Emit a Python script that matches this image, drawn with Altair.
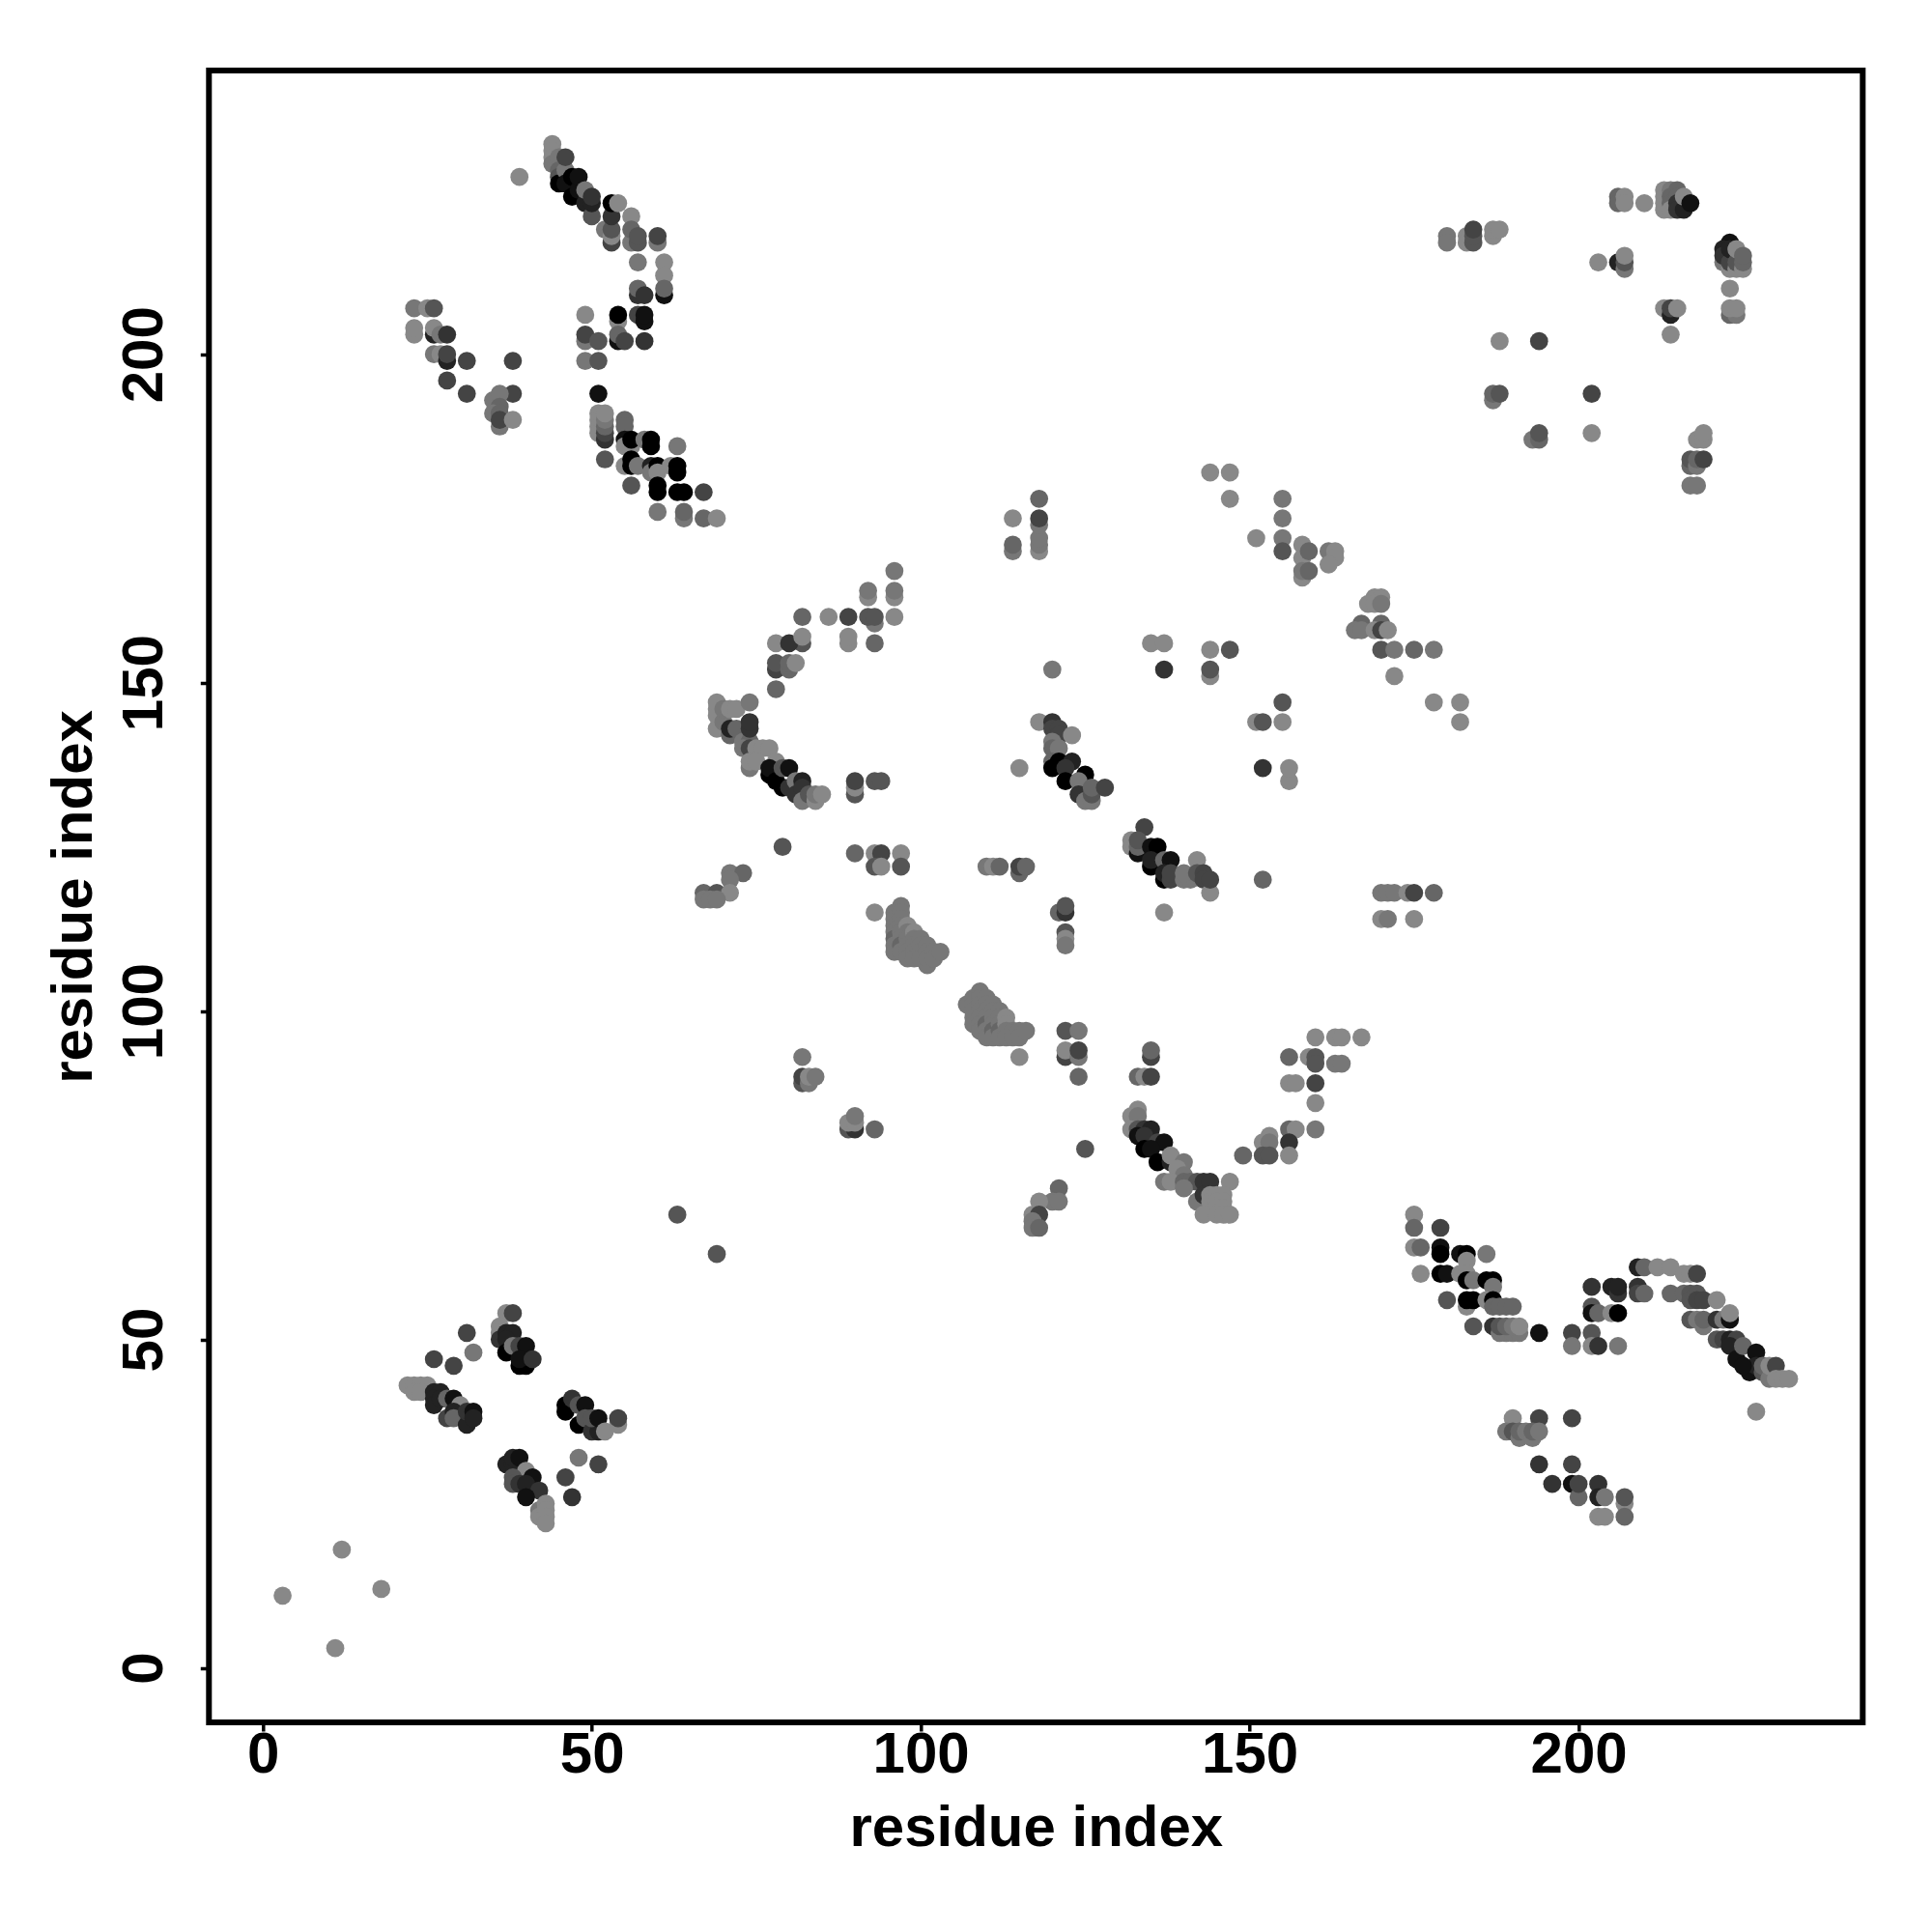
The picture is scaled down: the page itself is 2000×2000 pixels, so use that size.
import altair as alt
import pandas as pd

# each contact: (residue i, residue j, grey digit 0-8)
far_points = [(3,11,8),(11,3,8),(12,18,8),(18,12,8),(39,227,8),(63,69,5),(69,63,5),(227,39,8)]

top_left = [
(44,232,8),(44,231,8),(44,230,8),(44,229,7),(45,230,7),(45,228,6),(45,227,5),(45,226,0),(46,228,7),(46,226,1),(46,230,4),
(47,224,0),(47,227,0),(48,225,1),(48,227,1),(49,223,2),(49,225,7),(50,221,5),(50,223,2),(50,224,3),
(52,219,7),(53,217,4),(53,218,8),(53,219,5),(53,221,3),(53,223,0),(54,223,8),(56,221,8),(56,217,7),(56,219,6),(57,217,5),(57,218,5),(57,214,7),
(60,217,7),(60,218,4),(61,214,8),(61,212,8),(61,209,1),(61,210,6),(57,209,3),(57,210,6),(58,209,3),
(54,205,8),(54,206,0),(57,206,4),(58,205,1),(58,206,1),(49,206,8),(49,202,7),(49,203,4),(51,202,5),(54,202,1),(54,203,6),(55,202,4),(58,202,3),(49,199,7),(51,199,5),(51,194,1),
(23,207,7),(25,207,8),(26,207,5),(23,203,8),(23,204,8),(26,203,2),(26,204,8),(27,203,7),(28,203,3),(26,200,7),(27,200,8),(28,199,2),(28,200,4),(31,199,4),(38,199,4),(28,196,4),(31,194,4),(38,194,4),
(36,189,7),(35,193,7),(36,194,7),(36,192,6),(35,191,7),(36,191,6),(36,190,4),(38,190,8),
(51,191,8),(51,190,8),(51,189,8),(51,188,8),(52,187,3),(52,188,4),(52,189,6),(52,190,7),(52,191,8),(55,190,6),(55,189,6),(55,187,1),(55,186,8),(56,186,8),(56,187,0),(58,187,7),(59,186,0),(59,187,0),(63,186,7),
(52,184,5),(55,183,8),(56,184,0),(56,183,0),(57,183,7),(59,183,2),(59,182,7),(60,183,0),(60,182,8),(62,183,8),(63,183,0),(63,182,0),(56,180,5),(60,180,0),(60,179,0),(63,179,0),(64,179,0),(67,179,4),(60,176,7),(64,175,7),(64,176,6),(67,175,6),(69,175,8),
]

top_right = [
(180,218,7),(180,217,7),(183,218,8),(183,217,8),(184,217,5),(184,218,5),(184,219,4),(187,218,8),(187,219,8),(188,219,8),
(203,214,8),(206,214,2),(207,213,7),(207,214,5),(207,215,8),(206,224,6),(206,223,6),(207,224,8),(207,223,8),(210,223,8),
(213,225,8),(213,224,8),(213,223,8),(213,222,8),(214,225,7),(214,224,6),(214,223,6),(214,222,8),(215,225,6),(215,224,6),(215,223,3),(215,222,3),(216,222,2),(216,224,8),(217,223,1),
(223,217,1),(222,214,7),(222,216,2),(222,215,3),(223,213,8),(223,214,4),(223,216,2),(224,213,8),(224,214,5),(224,216,8),(225,213,8),(225,214,6),(225,215,6),
(223,210,8),(223,206,6),(224,206,7),(223,207,8),(224,207,8),(213,207,8),(214,206,2),(214,207,4),(215,207,8),(214,203,8),
(188,202,8),(194,202,4),(187,193,7),(187,194,6),(188,194,5),(202,194,4),(193,187,7),(194,187,6),(194,188,5),(202,188,8),
(218,187,8),(219,187,8),(219,188,8),(217,183,6),(217,184,5),(218,183,7),(218,184,6),(219,184,4),(217,180,7),(218,180,7),
]

centre_left = [
(96,167,7),(92,163,8),(92,164,7),(96,163,8),(96,164,7),(82,160,6),(86,160,8),(89,160,4),(93,159,7),(92,160,5),(93,160,5),(96,160,8),(89,156,8),(89,157,8),(93,156,6),
(82,156,5),(78,156,8),(80,156,3),(82,157,8),(78,152,4),(78,153,5),(80,152,6),(80,153,6),(81,153,8),(78,149,6),
(69,143,8),(69,145,8),(69,146,8),(69,147,8),(70,144,7),(70,146,7),(71,146,8),(72,146,8),(74,147,7),(71,142,6),(71,143,2),(72,143,6),(73,141,7),(74,141,6),(74,143,3),(74,144,3),(73,140,7),(74,140,4),
(75,140,8),(76,140,8),(77,140,8),(74,137,7),(74,138,8),(75,138,8),(78,138,8),(77,136,0),(77,137,1),(78,135,0),(79,134,0),(79,137,5),(80,137,1),(80,134,3),(81,135,7),(81,133,3),(82,135,2),(82,134,3),(82,132,7),(83,133,5),(84,132,8),(84,133,7),(85,133,8),
(90,133,5),(90,134,8),(90,135,4),(93,135,5),(94,135,5),(79,125,5),
(90,124,6),(93,124,8),(94,124,4),(97,124,8),(93,122,5),(94,122,8),(97,122,5),(110,122,7),(111,122,8),(112,122,6),(115,121,6),(115,122,4),(116,122,6),
(71,121,7),(73,121,6),(71,120,7),(67,118,6),(69,118,5),(71,118,8),(67,117,7),(68,117,7),(69,117,7),(93,115,8),
]

centre_right = [
(144,182,8),(147,182,8),(147,178,8),(155,178,7),(155,175,7),(155,172,7),(155,170,5),(151,172,8),(158,171,8),(158,169,8),(159,170,6),(162,170,7),(163,170,8),(163,169,8),(162,168,8),(158,166,8),(158,167,7),(159,167,6),
(169,163,8),(170,163,8),(168,162,8),(169,162,8),(170,162,7),(167,159,6),(170,159,6),(166,158,7),(167,158,7),(169,158,8),(170,158,4),(171,158,8),(170,155,5),(172,155,7),(175,155,6),(178,155,7),(172,151,8),
(178,147,8),(182,147,8),(182,144,8),
(114,175,8),(118,178,6),(118,170,8),(118,171,7),(118,172,7),(118,174,7),(118,175,4),(114,170,7),(114,171,6),
(135,156,8),(137,156,8),(137,152,3),(144,155,8),(147,155,5),(144,151,8),(144,152,5),(120,152,7),
(155,147,5),(151,144,8),(152,144,5),(155,144,8),(152,137,3),(156,135,8),(156,137,8),(115,137,8),
(118,144,8),(120,144,3),(120,143,4),(121,143,4),(121,142,4),(123,142,8),(120,141,7),(120,140,6),(121,140,7),(120,138,6),(120,137,0),(121,138,0),(123,138,2),(122,137,3),(122,135,0),(125,136,0),(124,135,7),(124,133,3),(125,132,7),(126,132,7),(126,133,5),(126,134,6),(128,134,4),
(134,128,4),(132,125,8),(132,126,8),(133,124,1),(133,125,6),(133,126,5),(135,125,1),(136,125,0),(135,122,0),(135,123,2),(137,123,6),(138,123,1),(137,120,0),(137,121,2),(138,120,4),(138,121,4),(140,120,7),(141,120,7),(140,121,7),(142,123,8),(142,121,5),(143,121,4),(143,120,4),(144,118,8),(144,120,4),(152,120,6),(137,115,8),
(170,118,7),(171,118,7),(172,118,7),(174,118,8),(175,118,4),(178,118,6),(170,114,8),(171,114,7),(175,114,8),
(121,115,6),(122,115,3),(122,116,5),(122,112,5),(122,111,8),(122,110,7),
]

helix_a = [
(96,115,7),(96,114,7),(96,113,7),(96,112,7),(96,111,6),(96,110,7),(96,109,7),(97,116,7),(97,115,7),(97,114,7),(97,113,7),(97,112,7),(97,111,7),(97,110,6),(97,109,7),
(98,113,8),(98,112,7),(98,111,7),(98,110,7),(98,109,7),(98,108,7),(99,112,8),(99,111,7),(99,110,7),(99,109,7),(99,108,7),(100,111,7),(100,110,7),(100,109,7),(100,108,7),(101,107,7),(101,110,7),(101,109,7),(101,108,7),(102,109,7),(102,108,7),(103,109,7),
]

helix_b = [
(107,101,7),(108,102,7),(108,101,7),(108,100,7),(108,99,7),(108,98,7),(109,103,7),(109,102,7),(109,101,7),(109,100,7),(109,99,7),(109,98,7),(109,97,7),
(110,102,7),(110,101,7),(110,100,7),(110,99,7),(110,98,6),(110,97,7),(110,96,7),(111,101,7),(111,100,7),(111,99,7),(111,98,7),(111,97,6),(111,96,7),(112,100,7),(112,99,7),(112,98,7),(112,97,6),(112,96,7),
(113,99,8),(113,98,8),(113,97,7),(113,96,7),(114,97,7),(114,96,7),(115,97,7),(115,96,7),(116,97,7),(115,93,8),
]

lower_centre = [
(82,93,7),(82,89,5),(82,90,4),(83,89,7),(83,90,8),(84,90,7),(89,82,5),(90,82,3),(89,83,8),(90,83,8),(90,84,7),(93,82,6),
(122,97,5),(124,97,7),(122,93,4),(122,94,8),(124,93,7),(124,94,4),(124,90,6),(135,93,4),(135,94,6),(133,90,6),(134,90,8),(135,90,4),
(156,93,6),(159,93,8),(160,93,5),(160,92,5),(163,92,7),(164,92,7),(160,96,8),(163,96,8),(164,96,8),(167,96,8),(156,89,8),(157,89,8),(160,89,4),(160,86,8),(156,82,6),(157,82,8),(160,82,7),
(153,81,8),(152,80,8),(153,80,7),(156,80,3),(152,78,5),(153,78,5),(156,78,8),(149,78,6),(125,79,5),
(133,85,8),(132,84,8),(133,84,7),(132,82,8),(133,82,5),(134,82,3),(135,82,2),(133,81,1),(134,81,3),(134,79,0),(136,80,4),(137,80,1),(135,79,1),(136,77,0),(138,77,2),(138,78,8),(140,77,7),(139,76,8),(140,75,7),
(137,74,7),(138,74,8),(140,74,6),(141,74,6),(142,74,5),(143,74,3),(144,74,3),(147,74,8),(140,73,7),(143,71,2),(142,71,7),(143,72,3),(144,72,8),(145,72,8),(146,72,8),(144,71,8),(145,71,8),(146,71,8),(145,70,8),(146,70,8),(143,69,8),(145,69,8),(146,69,8),(147,69,8),
(121,73,6),(120,71,7),(121,71,7),(118,71,8),(117,69,8),(118,69,4),(117,68,7),(117,67,7),(118,67,6),
]

bottom_left = [
(37,54,8),(38,54,4),(36,52,8),(36,51,8),(36,50,3),(37,51,2),(38,51,2),(37,50,2),(37,48,0),(38,49,7),(39,49,4),(40,49,1),(39,46,0),(40,46,0),(39,47,1),(41,47,3),
(31,51,4),(32,48,7),(26,47,4),(29,46,4),
(22,43,8),(23,43,8),(24,43,8),(25,43,8),(23,42,8),(24,42,8),(26,42,2),(27,42,2),(26,41,2),(26,40,2),(27,41,2),(28,41,6),(29,41,1),(30,40,8),(28,38,4),(29,39,2),(29,38,6),(31,37,2),(31,39,3),(32,39,1),(32,38,2),
(46,40,0),(46,39,0),(47,41,3),(48,40,5),(49,40,1),(48,37,0),(49,38,5),(50,36,3),(51,36,2),(50,38,5),(51,38,1),(52,36,8),(54,37,8),(54,38,4),
(48,32,7),(51,31,4),(46,29,4),(47,26,3),
(37,31,2),(38,31,2),(38,32,2),(39,32,1),(40,30,8),(41,29,1),(38,29,5),(38,28,5),(39,28,3),(40,28,2),(42,27,3),(40,26,1),(42,24,7),(42,23,8),(43,25,8),(43,24,8),(43,23,8),(43,22,8),
]

bottom_right = [
(175,69,8),(175,67,6),(179,67,4),(175,64,8),(176,64,6),(179,64,1),(179,63,0),(182,63,1),(183,63,0),(186,63,7),(176,60,8),(179,60,0),(180,60,1),(182,60,8),(183,62,8),(183,60,8),(183,59,0),(184,59,7),(186,59,0),(187,59,0),(187,58,7),
(180,56,5),(183,55,8),(183,56,0),(184,56,0),(186,56,8),(187,56,0),(187,55,6),(188,55,6),(189,55,6),(190,55,6),
(184,52,5),(187,52,3),(188,51,7),(189,51,7),(190,51,7),(191,51,7),(188,52,5),(189,52,6),(190,52,7),(191,52,8),(194,51,1),
(199,51,4),(202,51,5),(199,49,7),(202,49,8),(203,49,3),(206,49,7),
(202,58,3),(205,58,2),(206,57,3),(206,58,2),(209,58,3),(209,57,4),(210,57,6),(202,55,5),(202,54,1),(203,54,6),(205,54,8),(206,54,0),
(209,61,2),(210,61,6),(212,61,8),(214,61,8),(216,60,8),(217,60,8),(218,60,4),
(214,57,6),(216,57,6),(217,57,5),(218,57,5),(217,56,5),(218,56,4),(219,56,4),(221,56,8),
(217,53,5),(218,53,7),(219,52,7),(219,53,6),(221,53,3),(222,53,7),(223,53,1),(223,54,8),
(221,50,5),(222,50,4),(223,50,2),(224,50,4),(223,49,2),(224,47,1),(225,49,6),(227,48,1),(226,45,1),(227,46,2),(225,46,1),(228,45,5),(228,46,6),(229,44,7),(229,46,8),(230,46,4),(230,44,8),(231,44,8),(232,44,8),
(190,38,8),(194,38,4),(199,38,4),(189,36,7),(190,36,5),(191,35,7),(191,36,6),(192,36,7),(193,35,7),(193,36,6),(194,36,7),
(194,31,3),(199,31,4),(196,28,3),(199,28,1),(200,26,6),(200,28,4),(203,28,3),(203,26,2),(204,26,7),(207,25,8),(207,26,5),(203,23,8),(204,23,8),(207,23,6),
]

clusters = [far_points, top_left, top_right, centre_left, centre_right, helix_a, helix_b, lower_centre, bottom_left, bottom_right]
rows = [{"i": a, "j": b, "shade": "#" + str(c) * 3} for group in clusters for (a, b, c) in group]
df = pd.DataFrame(rows)

FONT = "Liberation Sans"
x_ticks = [0, 50, 100, 150, 200]
y_ticks = [0, 50, 100, 150, 200]

chart = (
    alt.Chart(df)
    .mark_circle(size=350, opacity=1)
    .encode(
        x=alt.X("i:Q", scale=alt.Scale(domain=[-8.2, 243.2], nice=False, zero=False),
                axis=alt.Axis(values=x_ticks, title="residue index", grid=False, domain=False,
                              tickSize=9, tickWidth=3.5, tickColor="black", labelFont=FONT, labelFontSize=60,
                              labelFontWeight="bold", labelColor="black", labelPadding=-4.5,
                              titleFont=FONT, titleFontSize=60, titleFontWeight="bold", titleColor="black",
                              titlePadding=17, labelFlush=False)),
        y=alt.Y("j:Q", scale=alt.Scale(domain=[-8.3, 243.2], nice=False, zero=False),
                axis=alt.Axis(values=y_ticks, title="residue index", grid=False, domain=False,
                              tickSize=9, tickWidth=3.5, tickColor="black", labelFont=FONT, labelFontSize=60,
                              labelFontWeight="bold", labelColor="black", labelPadding=27, labelAngle=270,
                              labelAlign="center", labelBaseline="bottom",
                              titleFont=FONT, titleFontSize=60, titleFontWeight="bold", titleColor="black",
                              titlePadding=12, labelFlush=False)),
        color=alt.Color("shade:N", scale=None),
    )
    .properties(width=1712, height=1710,
                autosize=alt.AutoSizeParams(type="none"),
                padding={"left": 208.3, "top": 65, "right": 60, "bottom": 200})
    .configure_view(stroke="black", strokeWidth=6, fill="white")
)

chart.save("out.html", embed_options={"renderer": "svg", "actions": False})
